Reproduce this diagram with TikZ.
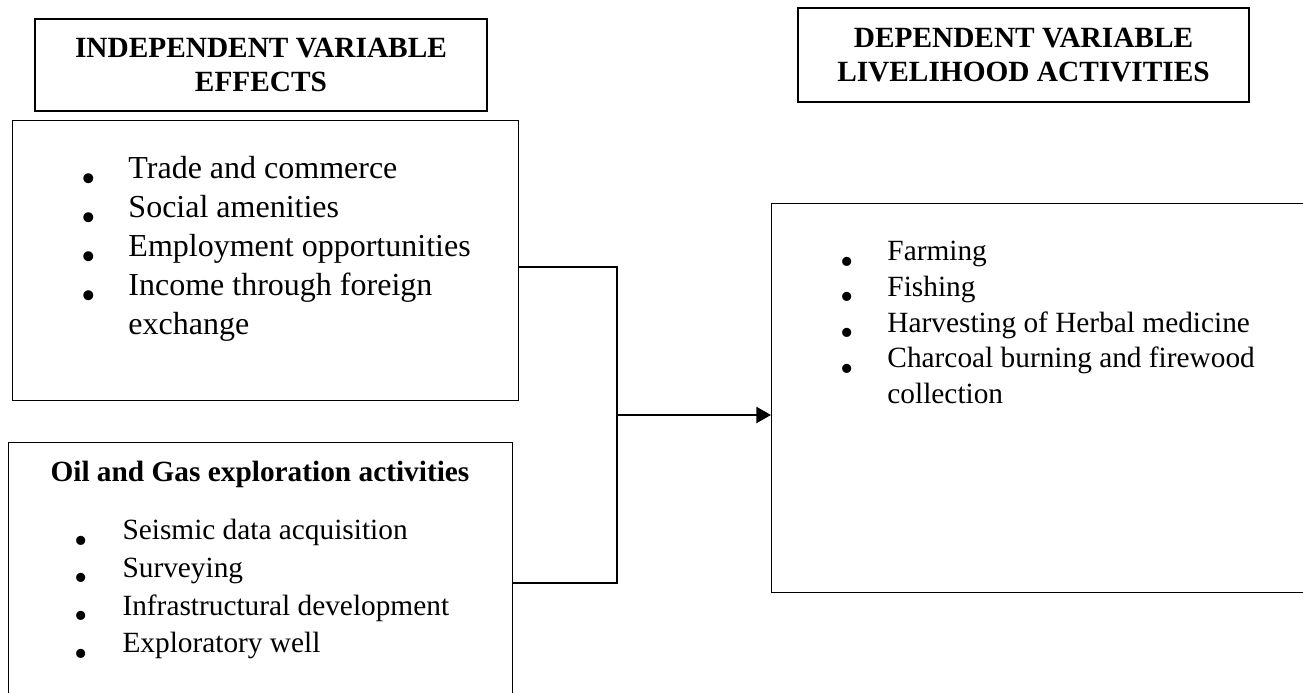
\documentclass[tikz,border=0pt]{standalone}
\usepackage{fontspec}
\setmainfont{Liberation Serif}
\usepackage{graphicx}
\usetikzlibrary{arrows.meta}

\newcommand{\bul}{\raisebox{-5pt}[0pt][0pt]{\scalebox{1.3}{\textbullet}}}

\begin{document}
\begin{tikzpicture}[x=0.375pt, y=-0.375pt,
    frame/.style={rectangle, draw, line width=0.5pt, inner sep=0pt},
    list/.style={anchor=base west, inner sep=0pt},
    link/.style={line width=0.9pt}
    ]
    \useasboundingbox (0,0) rectangle (1303,693);
    \clip (0,0) rectangle (1303,693);
    % headings
    \node[frame, minimum width=169.5pt, minimum height=34.5pt, align=center,
      font=\fontsize{11}{12.75}\selectfont\bfseries] (indep) at (261,65)
      {INDEPENDENT VARIABLE\\EFFECTS};
    \node[frame, minimum width=169.1pt, minimum height=35.25pt, align=center,
      font=\fontsize{11}{13}\selectfont\bfseries] (dep) at (1023.5,55)
      {DEPENDENT VARIABLE\\LIVELIHOOD ACTIVITIES};
    % boxes
    \node[frame, anchor=north west, minimum width=189.75pt, minimum height=105pt] (effects) at (12,120) {};
    \node[frame, anchor=north west, minimum width=189pt, minimum height=112.5pt] (oilgas) at (8,442) {};
    \node[frame, anchor=north west, minimum width=213.4pt, minimum height=145.9pt] (liveli) at (771,203) {};
    % lists
    \node[list, font=\fontsize{12}{14.6}\selectfont] (effectslist) at (81,179)
      {\begin{tabular}[t]{@{}p{17.6pt}@{}l@{}}
        \bul & Trade and commerce\\
        \bul & Social amenities\\
        \bul & Employment opportunities\\
        \bul & Income through foreign\\
             & exchange
      \end{tabular}};
    \node[list, font=\fontsize{11}{13}\selectfont\bfseries] (oilhead) at (50,482)
      {Oil and Gas exploration activities};
    \node[list, font=\fontsize{11}{14.1}\selectfont] (oillist) at (74,540)
      {\begin{tabular}[t]{@{}p{18pt}@{}l@{}}
        \bul & Seismic data acquisition\\
        \bul & Surveying\\
        \bul & Infrastructural development\\
        \bul & Exploratory well
      \end{tabular}};
    \node[list, font=\fontsize{11}{13.35}\selectfont] (livelilist) at (840,261)
      {\begin{tabular}[t]{@{}p{17.6pt}@{}l@{}}
        \bul & Farming\\
        \bul & Fishing\\
        \bul & Harvesting of Herbal medicine\\
        \bul & Charcoal burning and firewood\\
             & collection
      \end{tabular}};
    % connectors
    \coordinate (ja) at (617,267);
    \coordinate (jb) at (617,583);
    \coordinate (jm) at (617,415);
    \draw[link] (ja -| effects.east) -- (ja) -- (jb) -- (jb -| oilgas.east);
    \draw[link, -{Triangle[length=5.5pt, width=6pt]}] (jm) -- (jm -| liveli.west);
\end{tikzpicture}
\end{document}
